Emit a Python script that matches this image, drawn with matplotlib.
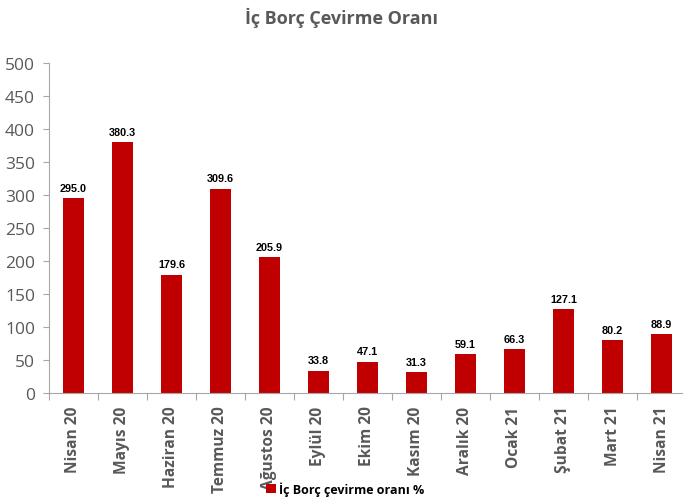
import matplotlib
matplotlib.use("Agg")
import matplotlib.pyplot as plt
import numpy as np

months = ["Nisan 20", "Mayıs 20", "Haziran 20", "Temmuz 20", "Ağustos 20", "Eylül 20",
          "Ekim 20", "Kasım 20", "Aralık 20", "Ocak 21", "Şubat 21", "Mart 21", "Nisan 21"]
ratio = [295.0, 380.3, 179.6, 309.6, 205.9, 33.8, 47.1, 31.3, 59.1, 66.3, 127.1, 80.2, 88.9]
series_name = "İç Borç çevirme oranı %"
title = "İç Borç Çevirme Oranı"

red = "#C00000"
grey = "#595959"

fig = plt.figure(figsize=(6.83, 5.02), dpi=100)
ax = fig.add_axes([0.0717, 0.215, 0.9327, 0.6574])

x = np.arange(len(months))
ax.bar(x, ratio, width=0.42, color=red, label=series_name)

for xi, v in zip(x, ratio):
    ax.annotate("%.1f" % v, (xi, v), xytext=(0, 4), textcoords="offset points",
                ha="center", va="bottom", fontsize=7.8, fontweight="bold",
                family="Liberation Sans", color="black")

ax.set_xlim(-0.5, len(months) - 0.5)
ax.set_ylim(0, 500)
ax.set_yticks(np.arange(0, 501, 50))
ax.tick_params(axis="y", labelsize=12.5, labelcolor=grey, color="#A6A6A6", length=4, pad=6)
for lab in ax.get_yticklabels():
    lab.set_family("Open Sans")

# ticks at category boundaries, labels at centres
ax.set_xticks(np.arange(-0.5, len(months), 1))
ax.set_xticklabels([])
ax.set_xticks(x, minor=True)
ax.set_xticklabels(months, minor=True, rotation=90, fontsize=11.2, fontweight="bold",
                   color=grey, family="Open Sans")
ax.tick_params(axis="x", which="major", length=5, color="#A6A6A6")
ax.tick_params(axis="x", which="minor", length=0, pad=9)

for s in ["top", "right"]:
    ax.spines[s].set_visible(False)
for s in ["left", "bottom"]:
    ax.spines[s].set_color("#A6A6A6")

fig.text(0.5, 0.965, title, ha="center", va="center", fontsize=13, fontweight="bold",
         color=grey, family="Open Sans")

fig.legend(loc="center", bbox_to_anchor=(0.505, 0.025), frameon=False, handlelength=0.8,
           handleheight=0.8, handletextpad=0.2,
           prop={"family": "Open Sans", "weight": "bold", "size": 9})

fig.savefig("out.png", dpi=100)
